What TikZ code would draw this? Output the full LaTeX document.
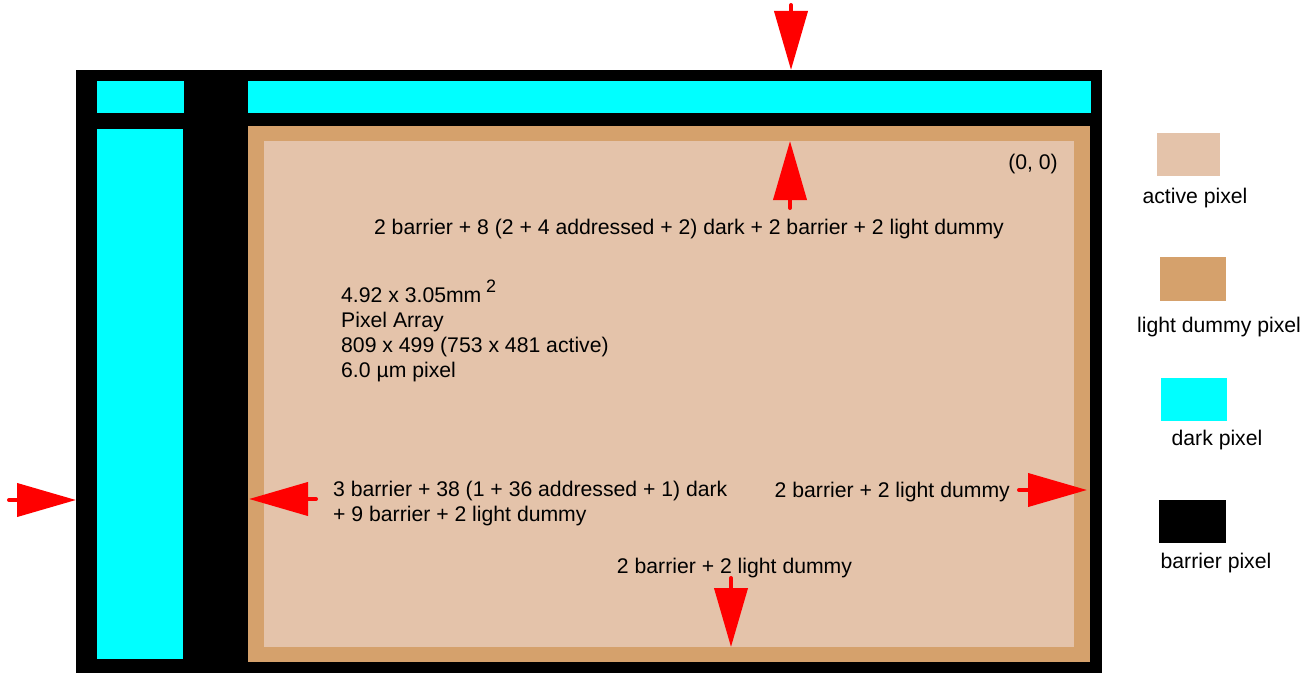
\documentclass[tikz,border=0pt]{standalone}
\usepackage{fontspec}
\setmainfont{Liberation Sans}
\usetikzlibrary{arrows.meta}
\definecolor{activec}{RGB}{228,195,170}
\definecolor{dummyc}{RGB}{213,161,108}
\definecolor{darkc}{RGB}{0,255,255}
\definecolor{arrowc}{RGB}{255,0,0}
\begin{document}
\begin{tikzpicture}[x=1pt,y=-1pt,
  redarrow/.style={draw=arrowc, line width=4pt, line cap=round,
    -{Triangle[length=59pt,width=33pt]}},
  lbl/.style={font=\fontsize{21.2}{25}\selectfont, inner sep=0pt, text=black},
  sup/.style={font=\fontsize{18}{20}\selectfont, inner sep=0pt, text=black},
  area/.style={inner sep=0pt, outer sep=0pt, draw=none, anchor=north west}
]
\useasboundingbox (0,0) rectangle (1315,674);
% sensor layers
\node[area, fill=black, minimum width=1026pt, minimum height=603pt] (outer) at (76,70) {};
\node[area, fill=darkc, minimum width=87pt, minimum height=32pt] (dcorner) at (97,81) {};
\node[area, fill=darkc, minimum width=843pt, minimum height=32pt] (dtop) at (248,81) {};
\node[area, fill=darkc, minimum width=86pt, minimum height=530pt] (dleft) at (97,129) {};
\node[area, fill=dummyc, minimum width=842pt, minimum height=536pt] (dummy) at (248,126) {};
\node[area, fill=activec, minimum width=810pt, minimum height=506pt] (active) at (264,141) {};
% texts
\node[lbl, anchor=base] (origin) at (1033,169) {(0, 0)};
\node[lbl, anchor=base] (toptxt) at (689,234) {2 barrier + 8 (2 + 4 addressed + 2) dark + 2 barrier + 2 light dummy};
\node[lbl, anchor=base west] (b1) at (341,302) {4.92 x 3.05mm};
\node[sup, anchor=base west] (b1s) at (486,292) {2};
\node[lbl, anchor=base west] (b2) at (341,327) {Pixel Array};
\node[lbl, anchor=base west] (b3) at (341,352) {809 x 499 (753 x 481 active)};
\node[lbl, anchor=base west] (b4) at (341,377) {6.0 µm pixel};
\node[lbl, anchor=base west] (l1) at (333,496) {3 barrier + 38 (1 + 36 addressed + 1) dark};
\node[lbl, anchor=base west] (l2) at (333,521) {+ 9 barrier + 2 light dummy};
\node[lbl, anchor=base east] (rtxt) at (1010,497) {2 barrier + 2 light dummy};
\node[lbl, anchor=base] (btxt) at (734.5,573) {2 barrier + 2 light dummy};
% arrows
\coordinate (a1s) at (791,5);   \coordinate (a1e) at (791,70);
\coordinate (a2s) at (790,208); \coordinate (a2e) at (790,141);
\coordinate (a3s) at (9,500);   \coordinate (a3e) at (76,500);
\coordinate (a4s) at (316,499); \coordinate (a4e) at (249,499);
\coordinate (a5s) at (1019,490);\coordinate (a5e) at (1087,490);
\coordinate (a6s) at (731,578); \coordinate (a6e) at (731,647);
\draw[redarrow] (a1s) -- (a1e);
\draw[redarrow] (a2s) -- (a2e);
\draw[redarrow] (a3s) -- (a3e);
\draw[redarrow] (a4s) -- (a4e);
\draw[redarrow] (a5s) -- (a5e);
\draw[redarrow] (a6s) -- (a6e);
% legend
\node[area, fill=activec, minimum width=63pt, minimum height=43pt] (kact) at (1157,133) {};
\node[lbl, anchor=base] (kactl) at (1195,204) {active pixel};
\node[area, fill=dummyc, minimum width=66pt, minimum height=44pt] (kdum) at (1160,257) {};
\node[lbl, anchor=base] (kduml) at (1219,332) {light dummy pixel};
\node[area, fill=darkc, minimum width=66pt, minimum height=43pt] (kdark) at (1161,378) {};
\node[lbl, anchor=base] (kdarkl) at (1217,445) {dark pixel};
\node[area, fill=black, minimum width=67pt, minimum height=43pt] (kbar) at (1159,500) {};
\node[lbl, anchor=base] (kbarl) at (1216,568) {barrier pixel};
\end{tikzpicture}
\end{document}
